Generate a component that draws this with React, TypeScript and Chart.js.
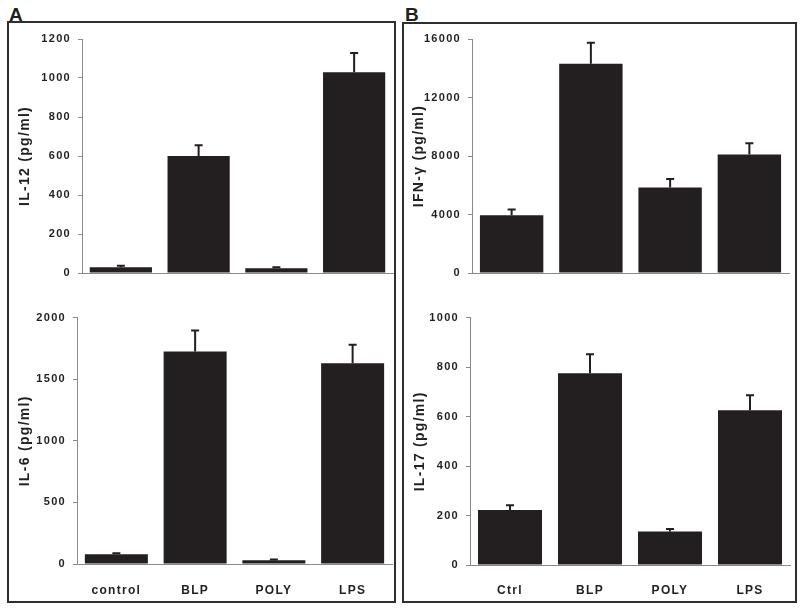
import React, { useEffect, useRef } from "react";
import { Chart, registerables } from "chart.js";
Chart.register(...registerables);

const leftCategories = ["control", "BLP", "POLY", "LPS"];
const rightCategories = ["Ctrl", "BLP", "POLY", "LPS"];

const il12Values = [30, 600, 25, 1030];
const il12Errors = [7, 55, 5, 98];
const il12Max = 1200;
const il12Step = 200;

const ifngValues = [3950, 14300, 5850, 8100];
const ifngErrors = [400, 1450, 570, 780];
const ifngMax = 16000;
const ifngStep = 4000;

const il6Values = [80, 1725, 30, 1630];
const il6Errors = [8, 170, 6, 150];
const il6Max = 2000;
const il6Step = 500;

const il17Values = [222, 775, 135, 626];
const il17Errors = [20, 77, 11, 60];
const il17Max = 1000;
const il17Step = 200;

const FONT = '"Liberation Sans", Arial, sans-serif';
const BAR = "#231f20";
const AXIS = "#8a8a8a";
const TEXT = "#231f20";

const spacingPlugin = {
  id: "spacing",
  beforeUpdate(chart: any) {
    chart.ctx.letterSpacing = "1.3px";
  },
  beforeDraw(chart: any) {
    chart.ctx.letterSpacing = "1.3px";
  },
};

const errorBarPlugin = {
  id: "errbars",
  afterDatasetsDraw(chart: any, _args: any, opts: any) {
    const errs: number[] = opts.errors || [];
    const meta = chart.getDatasetMeta(0);
    const yScale = chart.scales.y;
    const ctx = chart.ctx;
    ctx.save();
    ctx.strokeStyle = BAR;
    ctx.lineWidth = 2;
    meta.data.forEach((bar: any, i: number) => {
      const v = chart.data.datasets[0].data[i] as number;
      const top = yScale.getPixelForValue(v + errs[i]);
      ctx.beginPath();
      ctx.moveTo(bar.x, bar.y);
      ctx.lineTo(bar.x, top);
      ctx.moveTo(bar.x - 4, top);
      ctx.lineTo(bar.x + 4, top);
      ctx.stroke();
    });
    ctx.restore();
  },
};

type PanelProps = {
  left: number;
  top: number;
  width: number;
  height: number;
  labels: string[];
  values: number[];
  errors: number[];
  max: number;
  step: number;
  title: string;
  yWidth: number;
  xHeight: number;
  padTop: number;
  padRight: number;
  titlePad: number;
  showX: boolean;
  xPad: number;
};

function Panel(p: PanelProps) {
  const ref = useRef<HTMLCanvasElement | null>(null);
  useEffect(() => {
    if (!ref.current) return;
    const chart = new Chart(ref.current, {
      type: "bar",
      data: {
        labels: p.labels,
        datasets: [
          {
            data: p.values,
            backgroundColor: BAR,
            borderWidth: 0,
            barPercentage: 0.8,
            categoryPercentage: 1.0,
          },
        ],
      },
      options: {
        responsive: false,
        animation: false,
        devicePixelRatio: 1,
        layout: { padding: { left: 0, top: p.padTop, right: p.padRight, bottom: 0 } },
        plugins: {
          legend: { display: false },
          tooltip: { enabled: false },
          errbars: { errors: p.errors },
        } as any,
        scales: {
          x: {
            grid: { display: false },
            border: { display: true, color: AXIS, width: 1 },
            ticks: {
              display: p.showX,
              padding: p.xPad,
              color: TEXT,
              font: { family: FONT, size: 12, weight: "bold" },
              maxRotation: 0,
            },
            afterFit: (s: any) => {
              s.height = p.xHeight;
            },
          },
          y: {
            min: 0,
            max: p.max,
            grid: { drawOnChartArea: false, tickLength: 4, color: AXIS, lineWidth: 1 },
            border: { display: true, color: AXIS, width: 1 },
            ticks: {
              stepSize: p.step,
              padding: 7,
              color: TEXT,
              font: { family: FONT, size: 11, weight: "bold" },
              callback: (v: any) => String(v),
            },
            title: {
              display: true,
              text: p.title,
              color: TEXT,
              font: { family: FONT, size: 14, weight: "bold" },
              padding: { top: p.titlePad, bottom: 0 },
            },
            afterFit: (s: any) => {
              s.width = p.yWidth;
            },
          },
        },
      } as any,
      plugins: [spacingPlugin, errorBarPlugin],
    });
    return () => chart.destroy();
  }, []);
  return (
    <canvas
      ref={ref}
      width={p.width}
      height={p.height}
      style={{ position: "absolute", left: p.left, top: p.top, width: p.width, height: p.height }}
    />
  );
}

export default function App() {
  return (
    <div
      style={{
        position: "absolute",
        left: 0,
        top: 0,
        width: 800,
        height: 611,
        background: "#fff",
        overflow: "hidden",
        fontFamily: FONT,
      }}
    >
      <div
        style={{
          position: "absolute",
          left: 7,
          top: 21,
          width: 389,
          height: 582,
          border: "2px solid #2e2e2e",
          boxSizing: "border-box",
        }}
      />
      <div
        style={{
          position: "absolute",
          left: 402,
          top: 22,
          width: 395,
          height: 581,
          border: "2px solid #2e2e2e",
          boxSizing: "border-box",
        }}
      />
      <div
        style={{
          position: "absolute",
          left: 9,
          top: 5,
          font: `bold 19px ${FONT}`,
          lineHeight: "19px",
          color: TEXT,
        }}
      >
        A
      </div>
      <div
        style={{
          position: "absolute",
          left: 405,
          top: 5,
          font: `bold 19px ${FONT}`,
          lineHeight: "19px",
          color: TEXT,
        }}
      >
        B
      </div>
      <Panel
        left={9}
        top={24}
        width={385}
        height={278}
        labels={leftCategories}
        values={il12Values}
        errors={il12Errors}
        max={il12Max}
        step={il12Step}
        title="IL-12 (pg/ml)"
        yWidth={73}
        xHeight={29}
        padTop={15}
        padRight={1}
        titlePad={8}
        showX={false}
        xPad={16}
      />
      <Panel
        left={405}
        top={24}
        width={388}
        height={278}
        labels={rightCategories}
        values={ifngValues}
        errors={ifngErrors}
        max={ifngMax}
        step={ifngStep}
        title="IFN-γ (pg/ml)"
        yWidth={67}
        xHeight={29}
        padTop={15}
        padRight={4}
        titlePad={6}
        showX={false}
        xPad={16}
      />
      <Panel
        left={9}
        top={304}
        width={385}
        height={298}
        labels={leftCategories}
        values={il6Values}
        errors={il6Errors}
        max={il6Max}
        step={il6Step}
        title="IL-6 (pg/ml)"
        yWidth={68}
        xHeight={38}
        padTop={12}
        padRight={2}
        titlePad={8}
        showX={true}
        xPad={11}
      />
      <Panel
        left={405}
        top={304}
        width={388}
        height={298}
        labels={rightCategories}
        values={il17Values}
        errors={il17Errors}
        max={il17Max}
        step={il17Step}
        title="IL-17 (pg/ml)"
        yWidth={65}
        xHeight={37}
        padTop={12}
        padRight={3}
        titlePad={7}
        showX={true}
        xPad={10}
      />
    </div>
  );
}
